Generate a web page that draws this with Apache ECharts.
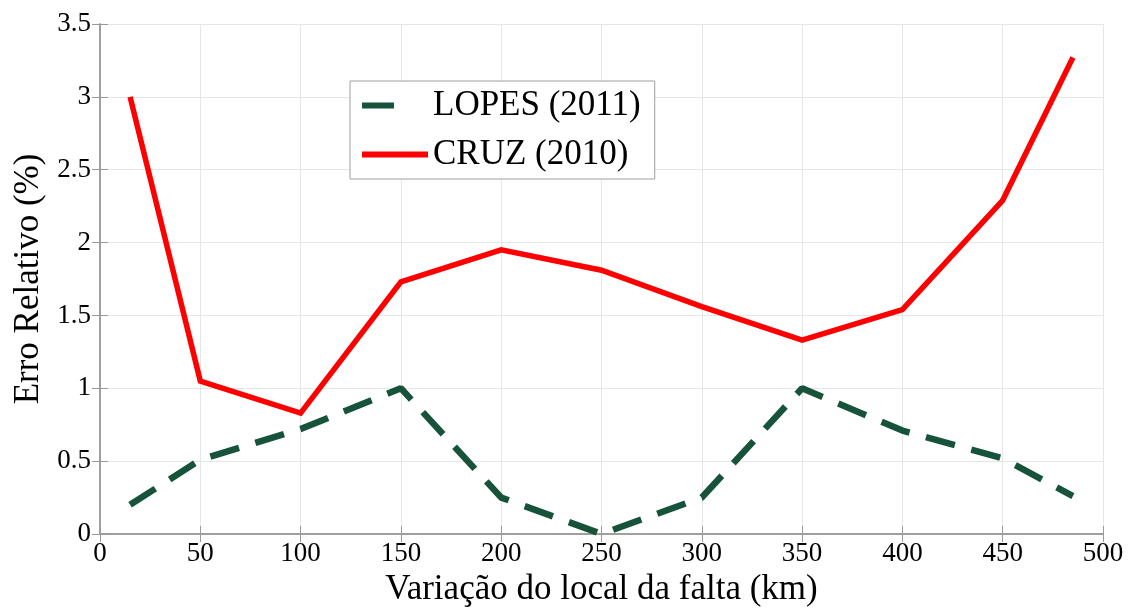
<!DOCTYPE html>
<html>
<head>
<meta charset="utf-8">
<script src="https://cdn.jsdelivr.net/npm/echarts@6/dist/echarts.min.js"></script>
<style>
  html, body { margin: 0; padding: 0; background: #fff; }
  #chart { width: 1128px; height: 608px; }
</style>
</head>
<body>
<div id="chart"></div>
<script>
// Fault location (km) and relative error (%) for both methods
const distances = [15, 50, 100, 150, 200, 250, 300, 350, 400, 450, 485];
const lopes = [0.2, 0.51, 0.72, 1.0, 0.25, 0.0, 0.25, 1.0, 0.71, 0.52, 0.26];
const cruz = [3.0, 1.05, 0.83, 1.73, 1.95, 1.81, 1.56, 1.33, 1.54, 2.29, 3.27];
const seriesNames = ['LOPES (2011)', 'CRUZ (2010)'];

const FONT = '"Liberation Serif", "Times New Roman", serif';
const AXIS_GRAY = '#9a9a9a';

const pairs = (ys) => distances.map((x, i) => [x, ys[i]]);

// Mirror axes on top/right close the box and carry inward ticks
const baseAxis = {
  axisLine: { show: true, lineStyle: { color: AXIS_GRAY, width: 1.5 } },
  axisTick: { show: true, inside: true, length: 8, lineStyle: { color: AXIS_GRAY } },
  splitLine: { show: false },
  axisLabel: { show: false }
};

const chart = echarts.init(document.getElementById('chart'));
chart.setOption({
  animation: false,
  backgroundColor: '#fff',
  grid: { left: 100, right: 25, top: 24, bottom: 74, containLabel: false, outerBoundsMode: 'none' },
  legend: {
    left: 350, top: 81,
    orient: 'vertical',
    padding: [7, 14, 7, 12],
    itemGap: 14,
    itemWidth: 66,
    itemHeight: 6,
    borderColor: '#a0a0a0',
    borderWidth: 1,
    backgroundColor: '#fff',
    textStyle: { fontFamily: FONT, fontSize: 35, lineHeight: 35, color: '#000', padding: [0, 0, 0, 0] },
    data: [
      { name: seriesNames[0], icon: 'path://M0 0H32V6H0Z M65 0H66V0.01H65Z' },
      { name: seriesNames[1], icon: 'rect' }
    ]
  },
  xAxis: [
    {
      type: 'value', min: 0, max: 500, interval: 50,
      name: 'Variação do local da falta (km)',
      nameLocation: 'middle', nameGap: 38,
      nameTextStyle: { fontFamily: FONT, fontSize: 35, color: '#000' },
      axisLine: { show: true, lineStyle: { color: AXIS_GRAY, width: 1.5 } },
      axisTick: { show: true, inside: true, length: 8, lineStyle: { color: AXIS_GRAY } },
      axisLabel: { fontFamily: FONT, fontSize: 27, color: '#000', margin: 6 },
      splitLine: { show: true, lineStyle: { color: '#e6e6e6', width: 1 } }
    },
    Object.assign({ type: 'value', min: 0, max: 500, interval: 50, position: 'top' }, baseAxis)
  ],
  yAxis: [
    {
      type: 'value', min: 0, max: 3.5, interval: 0.5,
      name: 'Erro Relativo (%)',
      nameLocation: 'middle', nameGap: 52,
      nameTextStyle: { fontFamily: FONT, fontSize: 35, color: '#000' },
      axisLine: { show: true, lineStyle: { color: AXIS_GRAY, width: 1.5 } },
      axisTick: { show: true, inside: true, length: 8, lineStyle: { color: AXIS_GRAY } },
      axisLabel: { fontFamily: FONT, fontSize: 27, color: '#000', margin: 9 },
      splitLine: { show: true, lineStyle: { color: '#e6e6e6', width: 1 } }
    },
    Object.assign({ type: 'value', min: 0, max: 3.5, interval: 0.5, position: 'right' }, baseAxis)
  ],
  series: [
    {
      name: seriesNames[0], type: 'line',
      data: pairs(lopes),
      symbol: 'none',
      color: '#17533a',
      lineStyle: { color: '#17533a', width: 6.5, type: [30, 17], cap: 'butt' },
      z: 3
    },
    {
      name: seriesNames[1], type: 'line',
      data: pairs(cruz),
      symbol: 'none',
      color: '#ff0000',
      lineStyle: { color: '#ff0000', width: 5.5, cap: 'butt', join: 'miter' },
      z: 4
    }
  ]
});
</script>
</body>
</html>
